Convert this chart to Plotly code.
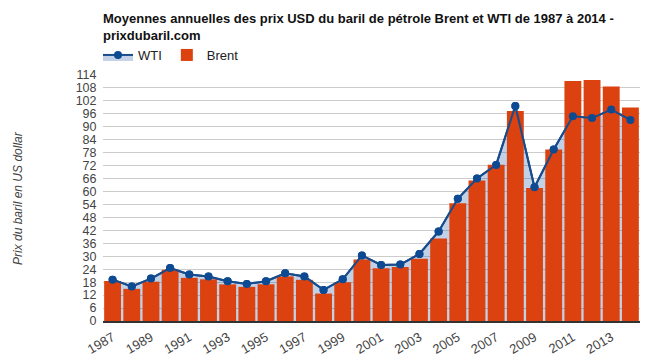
import plotly.graph_objects as go

years = list(range(1987, 2015))
brent = [18.53, 14.91, 18.23, 23.73, 20.00, 19.32, 16.97, 15.82, 17.02, 20.67,
         19.09, 12.72, 17.97, 28.50, 24.44, 25.02, 28.83, 38.27, 54.52, 65.14,
         72.39, 97.26, 61.67, 79.50, 111.26, 111.67, 108.66, 98.95]
wti = [19.17, 15.98, 19.64, 24.53, 21.54, 20.58, 18.43, 17.20, 18.43, 22.12,
       20.61, 14.42, 19.34, 30.38, 25.98, 26.18, 31.08, 41.51, 56.64, 66.05,
       72.34, 99.67, 61.95, 79.48, 94.88, 94.05, 97.98, 93.17]
y_ticks = list(range(0, 115, 6))
x_ticks = list(range(1987, 2014, 2))

title_text = ("<b>Moyennes annuelles des prix USD du baril de pétrole Brent et WTI de 1987 à 2014 -"
              "<br>prixdubaril.com</b>")

LINE = "#184c8c"
MARK = "#0d4a92"
FILL = "rgba(40,90,170,0.28)"
BAR = "#dc420f"
FONT = "Liberation Sans, Arial, sans-serif"

fig = go.Figure()
# WTI area (behind bars), carries the legend entry
fig.add_trace(go.Scatter(
    x=years, y=wti, name="WTI", mode="lines+markers", fill="tozeroy",
    fillcolor=FILL, line=dict(color=LINE, width=2),
    marker=dict(color=MARK, size=8), xaxis="x", yaxis="y"))
# Brent bars on overlay axes
fig.add_trace(go.Bar(
    x=years, y=brent, name="Brent", marker=dict(color=BAR, line=dict(width=0)),
    xaxis="x2", yaxis="y2"))
# WTI line on top of bars
fig.add_trace(go.Scatter(
    x=years, y=wti, name="WTI", mode="lines+markers", showlegend=False,
    line=dict(color=LINE, width=2), marker=dict(color=MARK, size=8),
    xaxis="x2", yaxis="y2", hoverinfo="skip"))

xr = [1986.5, 2014.5]
yr = [0, 114]
fig.update_layout(
    width=647, height=362,
    margin=dict(l=103, r=7, t=75, b=41, autoexpand=False),
    paper_bgcolor="white", plot_bgcolor="white",
    font=dict(family=FONT, size=12, color="#444"),
    bargap=0.12,
    showlegend=True,
    title=dict(text=title_text, x=103/647, xanchor="left", xref="container",
               y=1 - 23/362, yanchor="top",
               font=dict(family=FONT, size=13, color="#111")),
    legend=dict(orientation="h", x=-5/537, xanchor="left", y=1 + 20/246, yanchor="middle",
                font=dict(family=FONT, size=13, color="#222"),
                itemwidth=30, bgcolor="rgba(0,0,0,0)", traceorder="normal"),
    xaxis=dict(range=xr, tickmode="array", tickvals=x_ticks,
               ticktext=[str(v) for v in x_ticks], tickangle=-30,
               showgrid=False, zeroline=False, showline=True,
               linecolor="#333", linewidth=2, automargin=False,
               ticks="outside", ticklen=2, tickcolor="rgba(0,0,0,0)",
               tickfont=dict(size=13, color="#444")),
    yaxis=dict(range=yr, tickmode="array", tickvals=y_ticks,
               showgrid=True, gridcolor="#cccccc", gridwidth=1, zeroline=False,
               showline=False, automargin=False,
               tickfont=dict(size=12.5, color="#444"),
               ticks="outside", ticklen=3, tickcolor="rgba(0,0,0,0)"),
    xaxis2=dict(range=xr, overlaying="x", visible=False),
    yaxis2=dict(range=yr, overlaying="y", visible=False),
    annotations=[dict(text="<i>Prix du baril en US dollar</i>", textangle=-90,
                      xref="paper", yref="paper", x=(18 - 103) / 537, y=0.5,
                      xanchor="center", yanchor="middle", showarrow=False,
                      font=dict(family=FONT, size=12, color="#444"))],
)

fig.write_html("out.html", config={"displayModeBar": False},
               post_script="document.body.style.margin='0';document.body.style.overflow='hidden';")
